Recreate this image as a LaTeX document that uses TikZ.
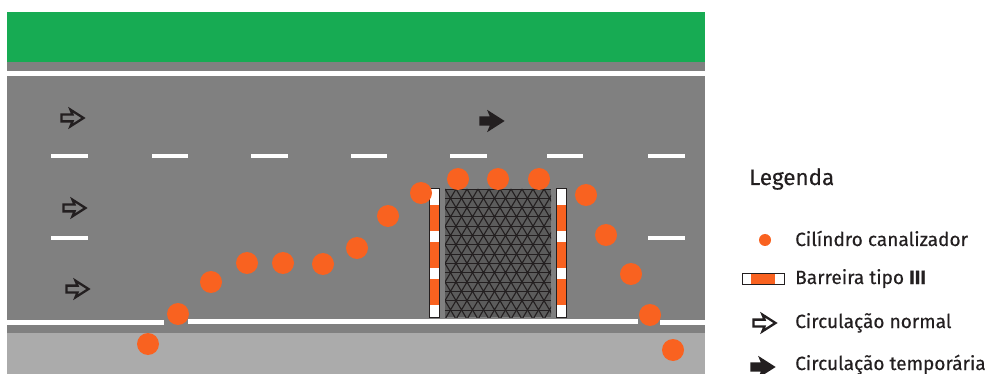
\documentclass[tikz,border=0pt]{standalone}
\usepackage{fontspec}
\setmainfont{Fira Sans}
\definecolor{roadgreen}{HTML}{17AB53}
\definecolor{roadgray}{HTML}{808080}
\definecolor{shouldergray}{HTML}{ABABAB}
\definecolor{coneorange}{HTML}{F96220}
\definecolor{inkdark}{HTML}{231F20}
\tikzset{
  x=1pt,y=-1pt,
  whitebar/.style={fill=white,draw=none},
  cone/.style={circle,fill=coneorange,draw=none,minimum size=22pt,inner sep=0pt},
  legcone/.style={circle,fill=coneorange,draw=none,minimum size=12pt,inner sep=0pt},
  legtext/.style={anchor=base west,text=inkdark,font=\fontsize{19.1}{22}\selectfont\addfontfeature{FakeBold=0.3},inner sep=0pt},
  pics/flow/.style={code={
    \draw[#1,line width=2.3pt,line join=miter,miter limit=4]
      (-11.5,-3.4) -- (-0.5,-3.4) -- (-2.5,-8.3) -- (10.5,0) -- (-2.5,8.3) -- (-0.5,3.4) -- (-11.5,3.4) -- cycle;
  }},
}
\begin{document}
\begin{tikzpicture}
\useasboundingbox (0,0) rectangle (988,374);
\fill[white] (0,0) rectangle (988,374);
% road
\fill[roadgreen] (7,12) rectangle (705,62);
\fill[roadgray] (7,62) rectangle (705,333);
\fill[shouldergray] (7,333) rectangle (705,374);
\fill[whitebar] (7,71) rectangle (705,76);
\fill[whitebar] (7,320) rectangle (164,325);
\fill[whitebar] (188,319) rectangle (638,324);
\fill[whitebar] (660,319.5) rectangle (705,324.5);
% dashes
\foreach \xa/\xb in {51/88,152/188,251/288,351/387,450/487,547/583,648/685}
  \fill[whitebar] (\xa,154) rectangle (\xb,158.5);
\foreach \xa/\xb in {51/88,648/685}
  \fill[whitebar] (\xa,236) rectangle (\xb,240.5);
% mesh
\fill[roadgray!72!black] (445,189) rectangle (551,317);
\begin{scope}
  \clip (445,189) rectangle (551,317);
  \foreach \r in {0,...,13}{
    \pgfmathsetmacro{\yy}{189+\r*9.3}
    \draw[inkdark,line width=0.8pt] (445,\yy) -- (551,\yy);
    \pgfmathsetmacro{\off}{mod(\r,2)*5.5}
    \foreach \c in {-1,...,10}{
      \pgfmathsetmacro{\xx}{445+\c*11+\off}
      \draw[inkdark,line width=1.1pt] (\xx,\yy) -- (\xx+5.5,\yy+9.3) -- (\xx+11,\yy);
    }
  }
\end{scope}
% barriers
\foreach \xa in {429.5,556.5}{
  \fill[white] (\xa,188) rectangle (\xa+10,317);
  \foreach \ya/\yb in {205/231,242/268,279/305}
    \fill[coneorange] (\xa,\ya) rectangle (\xa+10,\yb);
  \draw[inkdark,line width=0.7pt] (\xa,188) rectangle (\xa+10,317);
}
% cones
\foreach \n/\cx/\cy in {a/148/344,b/178/314,c/211/282,d/247/263,e/283/263,f/323/264,g/357/248,h/388/216,i/421/193,j/458/179,k/498/179,l/539/179,m/586/195,n/606/235,o/631/274,p/650/315,q/673/350}
  \node[cone] (cone\n) at (\cx,\cy) {};
% arrows on the road
\pic at (73,118) {flow={draw=inkdark}};
\pic at (75,208) {flow={draw=inkdark}};
\pic at (78,289) {flow={draw=inkdark}};
\pic at (492,121) {flow={draw=inkdark,fill=inkdark}};
% legend
\node[anchor=base west,text=inkdark,font=\fontsize{22.4}{26}\selectfont\addfontfeature{FakeBold=0.3},inner sep=0pt] (legtitle) at (749,185) {Legenda};
\node[legcone] (legcone) at (765,240) {};
\node[legtext] (t1) at (795,246) {Cilíndro canalizador};
\fill[white] (742,273) rectangle (784,284);
\fill[coneorange] (751,273) rectangle (775,284);
\draw[inkdark,line width=0.7pt] (742,273) rectangle (784,284);
\node[legtext] (t2) at (795,284) {Barreira tipo {\bfseries III}};
\pic at (765,323) {flow={draw=inkdark}};
\node[legtext] (t3) at (795,328) {Circulação normal};
\pic at (763,367) {flow={draw=inkdark,fill=inkdark}};
\node[legtext] (t4) at (795,370) {Circulação temporária};
\end{tikzpicture}
\end{document}
